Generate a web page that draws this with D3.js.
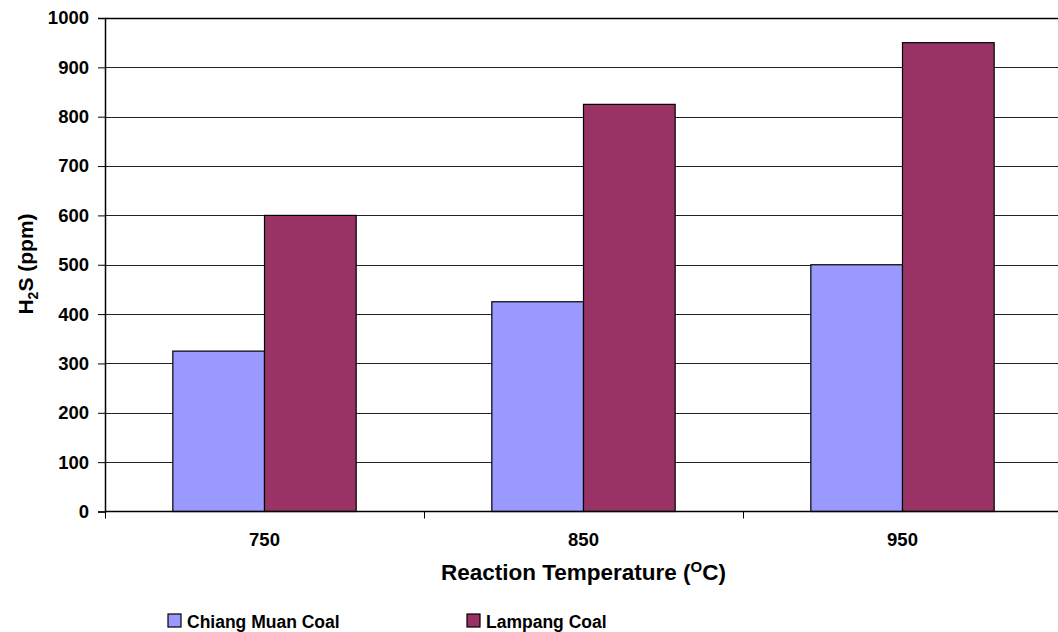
<!DOCTYPE html>
<html>
<head>
<meta charset="utf-8">
<script src="https://cdn.jsdelivr.net/npm/d3@7"></script>
<style>
  html, body { margin: 0; padding: 0; background: #fff; }
  svg { display: block; font-family: "Liberation Sans", Arial, sans-serif; font-weight: bold; }
</style>
</head>
<body>
<svg id="chart" width="1058" height="632"></svg>
<script>
// H2S concentration in product gas by reaction temperature
const temperatures = ["750", "850", "950"];
const seriesNames = ["Chiang Muan Coal", "Lampang Coal"];
const chiangMuan = [325, 425, 500];
const lampang = [600, 825, 950];
const yTicks = [0, 100, 200, 300, 400, 500, 600, 700, 800, 900, 1000];
const colors = ["#9999FF", "#993366"];

const svg = d3.select("#chart");
const plotLeft = 105, plotTop = 18, plotRight = 1062, plotBottom = 511.5;

const x = d3.scaleBand().domain(temperatures).range([plotLeft, plotRight]).paddingInner(0).paddingOuter(0);
const x1 = d3.scaleBand().domain(seriesNames).range([0, x.bandwidth()]).paddingInner(0).paddingOuter(0.74);
const y = d3.scaleLinear().domain([0, 1000]).range([plotBottom, plotTop]);

// horizontal gridlines
svg.append("g")
  .selectAll("line")
  .data(yTicks.filter(d => d > 0))
  .join("line")
  .attr("x1", plotLeft).attr("x2", plotRight)
  .attr("y1", d => Math.round(y(d)) + 0.5).attr("y2", d => Math.round(y(d)) + 0.5)
  .attr("stroke", d => d === 1000 ? "#000" : "#222")
  .attr("stroke-width", d => d === 1000 ? 1.5 : 1);

// bars
const rows = temperatures.map((t, i) => ({ t, values: [chiangMuan[i], lampang[i]] }));
svg.append("g")
  .selectAll("g")
  .data(rows)
  .join("g")
  .attr("transform", d => `translate(${x(d.t)},0)`)
  .selectAll("rect")
  .data(d => d.values.map((v, j) => ({ name: seriesNames[j], v, j })))
  .join("rect")
  .attr("x", d => x1(d.name))
  .attr("width", x1.bandwidth())
  .attr("y", d => y(d.v))
  .attr("height", d => y(0) - y(d.v))
  .attr("fill", d => colors[d.j])
  .attr("stroke", "#000")
  .attr("stroke-width", 1.2);

// y axis
const yAxis = d3.axisLeft(y).tickValues(yTicks).tickSize(7).tickPadding(9).tickFormat(d3.format("d"));
const gy = svg.append("g").attr("transform", `translate(${plotLeft},0)`).call(yAxis);
gy.select(".domain").attr("stroke", "#000").attr("stroke-width", 1.5);
gy.selectAll(".tick line").attr("stroke", "#000");
gy.selectAll(".tick text").attr("font-size", 18.5).attr("font-weight", "bold").attr("fill", "#000")
  .attr("font-family", "Liberation Sans, Arial, sans-serif");

// x axis: ticks sit on category boundaries, labels at category centres
const gx = svg.append("g").attr("transform", `translate(0,${plotBottom})`);
gx.append("line").attr("x1", plotLeft).attr("x2", plotRight).attr("y1", 0).attr("y2", 0)
  .attr("stroke", "#000").attr("stroke-width", 1.5);
gx.selectAll("line.tk")
  .data(temperatures)
  .join("line")
  .attr("class", "tk")
  .attr("x1", d => Math.round(x(d)) + 0.5).attr("x2", d => Math.round(x(d)) + 0.5)
  .attr("y1", 0).attr("y2", 7)
  .attr("stroke", "#000");
gx.selectAll("text")
  .data(temperatures)
  .join("text")
  .attr("x", d => x(d) + x.bandwidth() / 2)
  .attr("y", 34.5)
  .attr("text-anchor", "middle")
  .attr("font-size", 18.5)
  .text(d => d);

// axis titles
const xt = svg.append("text")
  .attr("x", x("850") + x.bandwidth() / 2)
  .attr("y", 580)
  .attr("text-anchor", "middle")
  .attr("font-size", 22.5);
xt.append("tspan").text("Reaction Temperature (");
xt.append("tspan").attr("dy", -8).attr("font-size", 15).text("O");
xt.append("tspan").attr("dy", 8).text("C)");

const yt = svg.append("text")
  .attr("transform", "translate(33,264) rotate(-90)")
  .attr("text-anchor", "middle")
  .attr("font-size", 21);
yt.append("tspan").text("H");
yt.append("tspan").attr("dy", 5).attr("font-size", 14).text("2");
yt.append("tspan").attr("dy", -5).text("S (ppm)");

// legend
const legendX = [168, 467];
const lg = svg.append("g")
  .selectAll("g")
  .data(seriesNames)
  .join("g")
  .attr("transform", (d, i) => `translate(${legendX[i]},614)`);
lg.append("rect")
  .attr("width", 13).attr("height", 13)
  .attr("fill", (d, i) => colors[i])
  .attr("stroke", "#000").attr("stroke-width", 1.2);
lg.append("text")
  .attr("x", 19).attr("y", 13.5)
  .attr("font-size", 17.5)
  .text(d => d);
</script>
</body>
</html>
